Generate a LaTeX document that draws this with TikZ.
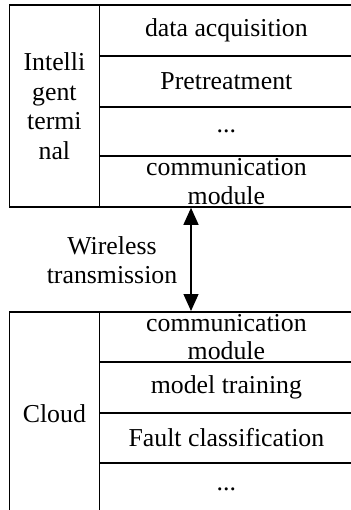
\documentclass[tikz,border=0pt]{standalone}
\usepackage{fontspec}
\setmainfont{Liberation Serif}
\usetikzlibrary{arrows.meta}
\begin{document}
\begin{tikzpicture}[x=1pt,y=-1pt,
  cell/.style={draw, line width=1.8pt, inner sep=0pt, anchor=north west,
    align=center, font=\fontsize{25.8}{28.5}\selectfont},
  side/.style={cell, minimum width=90pt},
  row/.style={cell, minimum width=254pt},
  label/.style={align=center, inner sep=0pt, font=\fontsize{25.8}{29.5}\selectfont},
  link/.style={line width=1.3pt, {Triangle[length=17pt,width=15pt]}-{Triangle[length=17pt,width=15pt]}}]
\useasboundingbox (0,0) rectangle (350,510);

% upper block: intelligent terminal
\node[side, minimum height=201.5pt, font=\fontsize{25.8}{29.5}\selectfont] (term) at (8.5,4.5)
  {\raisebox{-3pt}{\parbox{80pt}{\centering Intelli\\gent\\termi\\nal}}};
\node[row, minimum height=50.5pt] (t1) at (98.5,4.5) {data acquisition};
\node[row, minimum height=51pt]   (t2) at (98.5,55) {Pretreatment};
\node[row, minimum height=49pt]   (t3) at (98.5,106) {...};
\node[row, minimum height=51pt]   (t4) at (98.5,155) {communication\\module};

% lower block: cloud
\node[side, minimum height=203pt] (cloud) at (8.5,311) {Cloud};
\node[row, minimum height=50pt]   (b1) at (98.5,311) {communication\\module};
\node[row, minimum height=51pt]   (b2) at (98.5,361) {model training};
\node[row, minimum height=50pt]   (b3) at (98.5,412) {Fault classification};
\node[row, minimum height=52pt]   (b4) at (98.5,462) {...};

% wireless link between the two communication modules
\coordinate (up) at ([xshift=92.5pt]t4.south west);
\coordinate (down) at ([xshift=92.5pt]b1.north west);
\draw[link] (up) -- (down);
\node[label] (wl) at (112,260) {Wireless\\transmission};
\end{tikzpicture}
\end{document}
